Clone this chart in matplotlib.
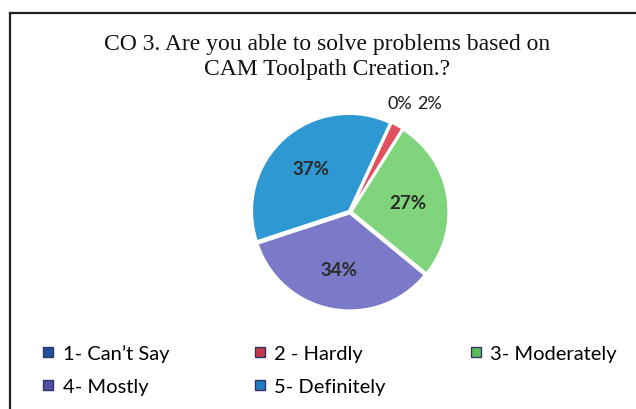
import numpy as np
import matplotlib
matplotlib.use("Agg")
from matplotlib import pyplot as plt
from matplotlib.lines import Line2D

labels = ["1- Can\u2019t Say", "2 - Hardly", "3- Moderately", "4- Mostly", "5- Definitely"]
values = [0, 2, 27, 34, 37]
pcts = ["0%", "2%", "27%", "34%", "37%"]
colors = ["#1f5aa6", "#e0505e", "#7fd47c", "#7a7ac8", "#2e98d2"]
legend_colors = ["#1f4e9a", "#c43a4c", "#5cbc5c", "#4f4fa6", "#1f7dbf"]

fig = plt.figure(figsize=(6.36, 4.10), dpi=100)
fig.patch.set_facecolor("white")

# frame (top and left edge only, like the cropped photo)
fig.add_artist(Line2D([10/636, 1.0], [1 - 14/410, 1 - 14/410], color="#222222", lw=1.6))
fig.add_artist(Line2D([10/636, 10/636], [0, 1 - 14/410], color="#222222", lw=1.6))

fig.text(0.515, 1 - 57/410, "CO 3. Are you able to solve problems based on\nCAM Toolpath Creation.?",
         ha="center", va="center", fontsize=17, family="Liberation Serif",
         linespacing=1.3, color="#111111")

# pie axes, centre ~(350,213) px, radius ~97 px
r = 97
cx, cy = 350, 213
ax = fig.add_axes([(cx - r*1.25)/636, 1 - (cy + r*1.25)/410, 2.5*r/636, 2.5*r/410])
wedges, _ = ax.pie(values, colors=colors, startangle=65, counterclock=False,
                   explode=[0.015]*5, radius=1,
                   wedgeprops=dict(edgecolor="white", linewidth=1.5))
ax.set_xlim(-1.25, 1.25)
ax.set_ylim(-1.25, 1.25)
ax.set_aspect("equal")
ax.axis("off")

for w, p in zip(wedges, pcts):
    ang = np.deg2rad((w.theta1 + w.theta2) / 2)
    if p in ("0%", "2%"):
        ax.text(0.64 if p == "0%" else 0.69, 1.12, p,
                ha="right" if p == "0%" else "left", va="center",
                fontsize=13, color="#1a1a1a", family="Lato")
    else:
        ax.text(0.6*np.cos(ang), 0.6*np.sin(ang), p, ha="center", va="center",
                fontsize=13.5, fontweight="bold", color="#2a2a2a", family="Lato")

handles = [Line2D([], [], marker="s", ls="", markersize=7.5, markerfacecolor=c,
                  markeredgecolor="#333366", label=l) for c, l in zip(legend_colors, labels)]
order = [0, 3, 1, 4, 2]
fig.legend([handles[i] for i in order], [labels[i] for i in order], ncol=3,
           loc="lower left", bbox_to_anchor=(0.035, -0.01), frameon=False,
           prop=dict(family="Lato", size=14.5), handletextpad=0.3,
           columnspacing=4.1, labelspacing=0.8, handlelength=0.8)

fig.savefig("out.png", dpi=100, facecolor="white")
